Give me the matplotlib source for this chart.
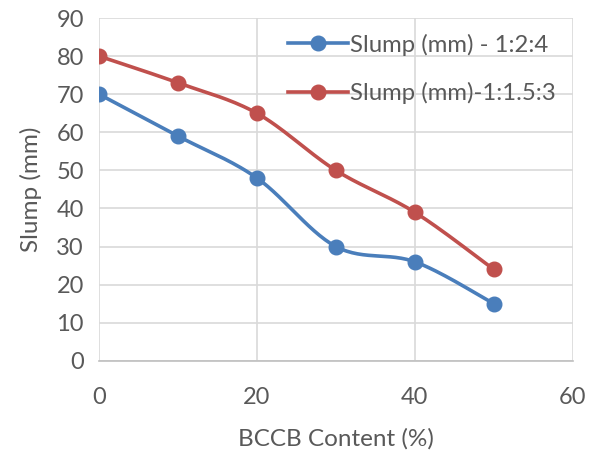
import numpy as np
import matplotlib
matplotlib.use("Agg")
import matplotlib.pyplot as plt
from matplotlib.lines import Line2D

bccb = [0, 10, 20, 30, 40, 50]
slump_124 = [70, 59, 48, 30, 26, 15]
slump_1153 = [80, 73, 65, 50, 39, 24]
labels = ["Slump (mm) - 1:2:4", "Slump (mm)-1:1.5:3"]
colors = ["#4A7EBB", "#C0504D"]
xticks = [0, 20, 40, 60]
yticks = list(range(0, 100, 10))

plt.rcParams['font.family'] = ['Lato', 'DejaVu Sans']
text_col = "#595959"
grid_col = "#D9D9D9"


def smooth(x, y, n=30):
    # Excel-style smoothing (Catmull-Rom cubic Bezier through the points)
    x = np.asarray(x, float); y = np.asarray(y, float)
    px, py = [], []
    m = len(x)
    for i in range(m - 1):
        x0, y0 = (x[i - 1], y[i - 1]) if i > 0 else (x[i], y[i])
        x3, y3 = (x[i + 2], y[i + 2]) if i + 2 < m else (x[i + 1], y[i + 1])
        x1, y1 = x[i], y[i]
        x2, y2 = x[i + 1], y[i + 1]
        c1x = x1 + (x2 - x0) / 6; c1y = y1 + (y2 - y0) / 6
        c2x = x2 - (x3 - x1) / 6; c2y = y2 - (y3 - y1) / 6
        t = np.linspace(0, 1, n)
        bx = (1 - t) ** 3 * x1 + 3 * (1 - t) ** 2 * t * c1x + 3 * (1 - t) * t ** 2 * c2x + t ** 3 * x2
        by = (1 - t) ** 3 * y1 + 3 * (1 - t) ** 2 * t * c1y + 3 * (1 - t) * t ** 2 * c2y + t ** 3 * y2
        px.extend(bx); py.extend(by)
    return np.array(px), np.array(py)


fig = plt.figure(figsize=(5.98, 4.51), dpi=100)
ax = fig.add_axes([0.1656, 0.200, 0.792, 0.760])

for ys, c in zip([slump_124, slump_1153], colors):
    sx, sy = smooth(bccb, ys)
    ax.plot(sx, sy, color=c, lw=2.6, solid_capstyle='round', zorder=3)
    ax.plot(bccb, ys, 'o', color=c, ms=10.5, zorder=4)

ax.set_xlim(0, 60)
ax.set_ylim(0, 90)
ax.set_xticks(xticks)
ax.set_yticks(yticks)
ax.grid(True, color=grid_col, lw=1.2)
ax.set_axisbelow(True)
for s in ['top', 'right']:
    ax.spines[s].set_visible(False)
ax.spines['left'].set_visible(False)
ax.spines['bottom'].set_color("#BFBFBF")
ax.spines['bottom'].set_linewidth(1.2)
ax.tick_params(length=0, labelsize=17, colors=text_col, pad=11)
ax.tick_params(axis='x', pad=19)
ax.set_xlabel("BCCB Content (%)", fontsize=17.5, color=text_col, labelpad=14)
ax.set_ylabel("Slump (mm)", fontsize=17.5, color=text_col, labelpad=10)

handles = [Line2D([0], [0], color=c, lw=2.6, marker='o', ms=10.5) for c in colors]
leg = ax.legend(handles, labels, loc='upper right', bbox_to_anchor=(1.0, 1.003),
                frameon=False, fontsize=17.2, handlelength=2.5, handletextpad=0.1,
                labelspacing=1.1, borderaxespad=0.3)
for t in leg.get_texts():
    t.set_color(text_col)

fig.savefig("out.png", dpi=100)
